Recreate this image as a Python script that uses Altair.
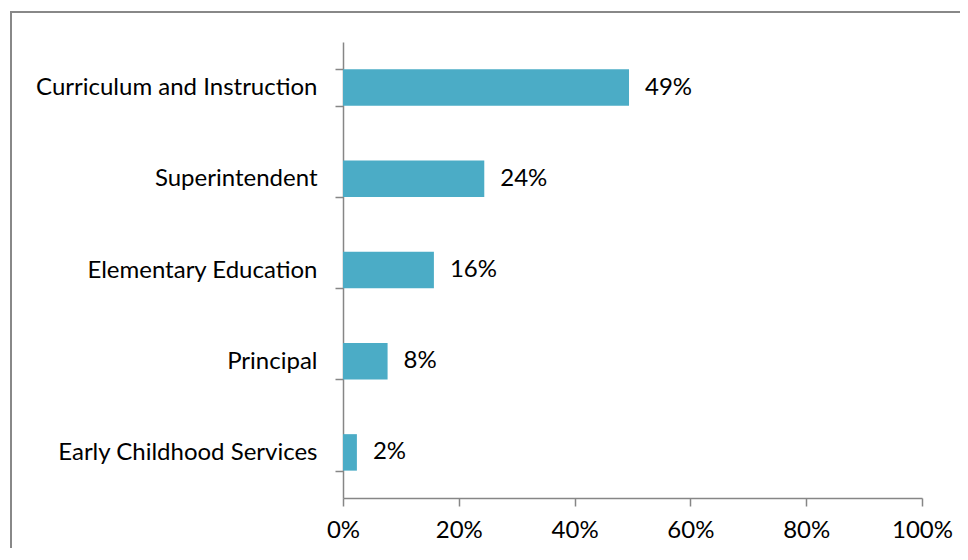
import altair as alt
import pandas as pd

categories = ["Curriculum and Instruction", "Superintendent", "Elementary Education",
              "Principal", "Early Childhood Services"]
values = [0.494, 0.244, 0.157, 0.077, 0.024]
labels = ["49%", "24%", "16%", "8%", "2%"]

df = pd.DataFrame({"cat": categories, "val": values, "lab": labels})

FONT = "Lato"
FS = 24
AX = "#868686"

y_enc = alt.Y("cat:N", sort=categories, title=None,
              scale=alt.Scale(paddingInner=0.6, paddingOuter=0.3),
              axis=alt.Axis(tickBand="extent", tickSize=8, labelPadding=18,
                            labelFont=FONT, labelFontSize=FS, labelColor="black",
                            domainColor=AX, tickColor=AX, domainWidth=1.5, tickWidth=1.5,
                            labelLimit=400))
x_enc = alt.X("val:Q", title=None,
              scale=alt.Scale(domain=[0, 1], nice=False),
              axis=alt.Axis(values=[0, 0.2, 0.4, 0.6, 0.8, 1.0], format=".0%",
                            grid=False, tickSize=8, labelPadding=12,
                            labelFont=FONT, labelFontSize=FS, labelColor="black",
                            domainColor=AX, tickColor=AX, domainWidth=1.5, tickWidth=1.5,
                            labelFlush=False))

frame = alt.Chart(df).mark_rect(fill=None, stroke="#888888", strokeWidth=2).encode(
    x=alt.value(-332), x2=alt.value(700), y=alt.value(-30), y2=alt.value(600))

bars = alt.Chart(df).mark_bar(color="#4BACC6").encode(x=x_enc, y=y_enc)
text = alt.Chart(df).mark_text(align="left", dx=16, font=FONT, fontSize=FS, color="black").encode(
    x="val:Q", y=alt.Y("cat:N", sort=categories), text="lab:N")

chart = alt.layer(frame, bars, text).properties(
    width=579, height=456,
    autosize=alt.AutoSizeParams(type="none"),
    padding={"left": 335, "top": 34, "right": 38, "bottom": 50},
).configure_view(stroke=None)

chart.save("out.html", embed_options={"renderer": "svg", "actions": False})
